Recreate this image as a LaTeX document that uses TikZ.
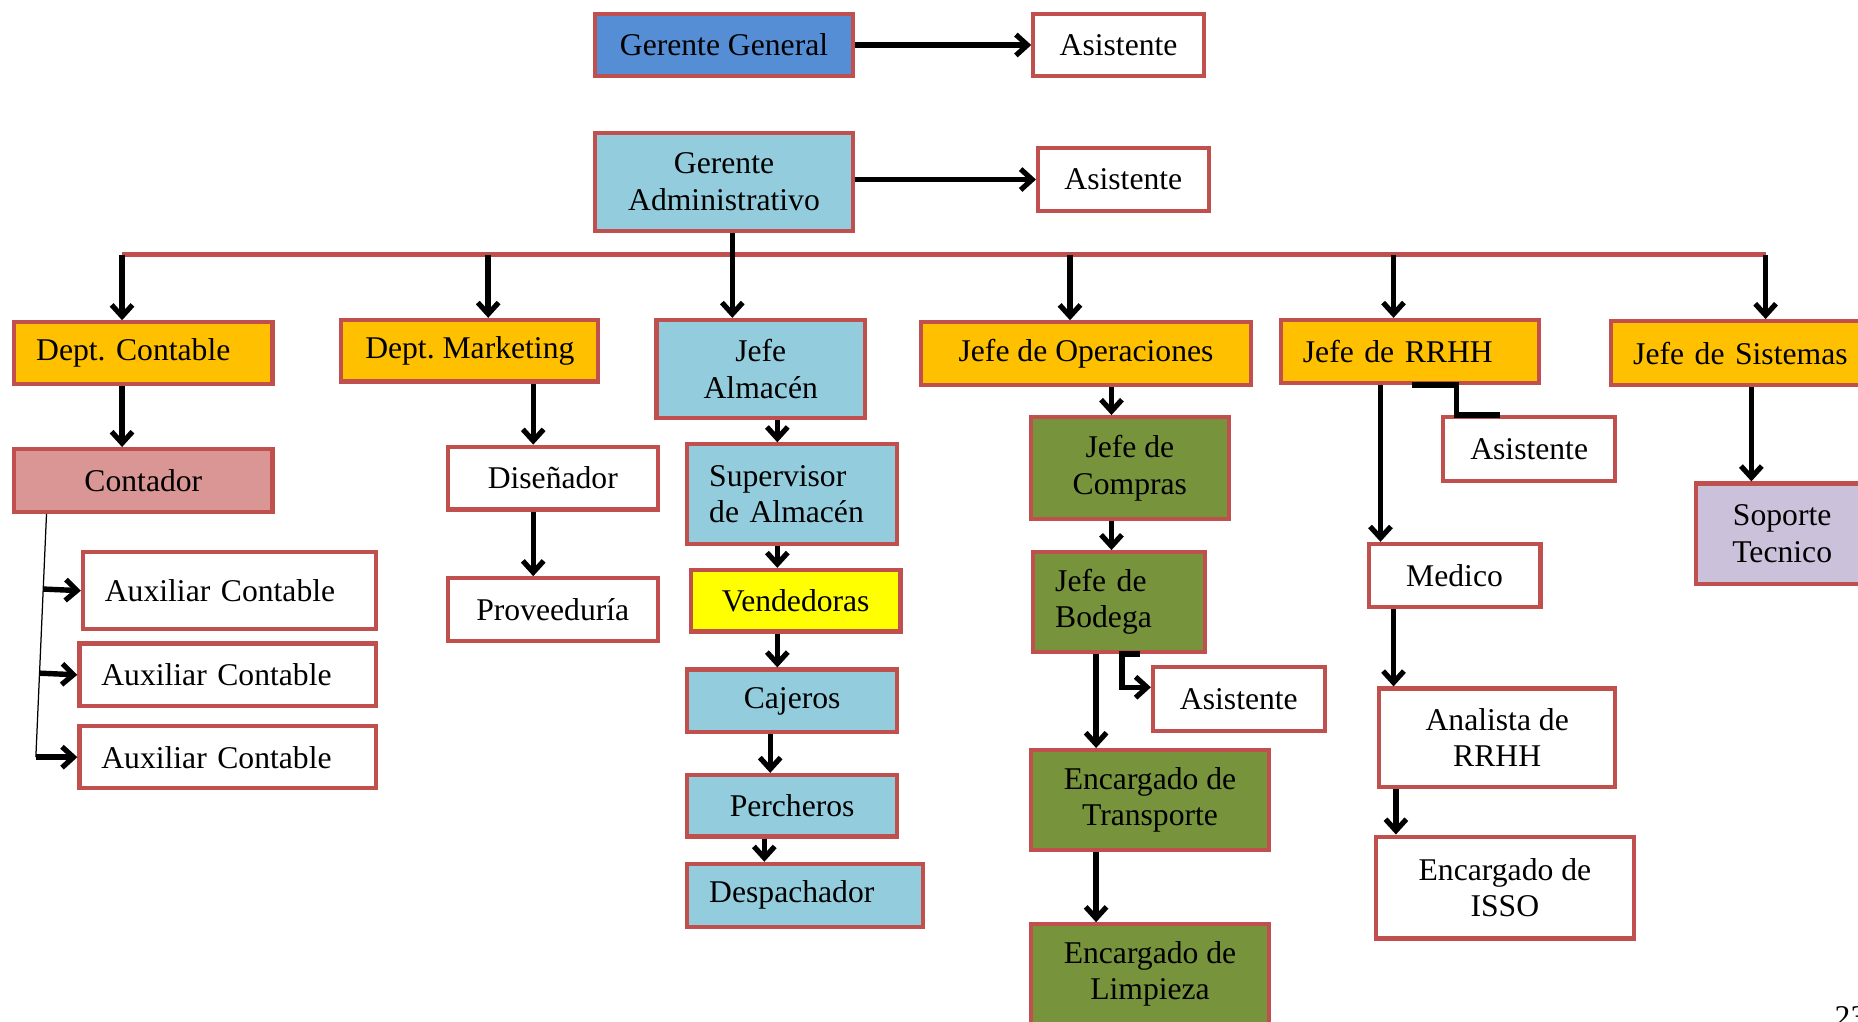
\documentclass[tikz,border=0pt]{standalone}
\usepackage{fontspec}
\setmainfont{Liberation Serif}
\usetikzlibrary{arrows.meta}
\usetikzlibrary{calc}

\definecolor{borde}{HTML}{C0504D}
\definecolor{azul}{HTML}{558ED5}
\definecolor{celeste}{HTML}{93CDDD}
\definecolor{naranja}{HTML}{FFC000}
\definecolor{rosa}{HTML}{D99694}
\definecolor{amarillo}{HTML}{FFFF00}
\definecolor{verde}{HTML}{77933C}
\definecolor{lila}{HTML}{CCC1DA}

\tikzset{
	caja/.style={draw=borde, line width=2pt, fill=white, align=center, inner sep=2pt, font=\fontsize{15.2}{17.5}\selectfont},
	izq/.style={align=left, inner xsep=0.37cm},
	flecha/.style={line width=2.6pt, -{Straight Barb[length=5.5pt, width=10pt, line width=2.5pt]}},
	linea/.style={line width=2.6pt},
	barra/.style={draw=borde, line width=2.4pt},
}

\begin{document}
\frenchspacing
\begin{tikzpicture}[x=0.02cm, y=-0.02cm]
	\useasboundingbox (0,0) rectangle (1568,862);
	\clip (0,0) rectangle (1568,862);

	\node[caja, fill=azul, minimum width=4.36cm, minimum height=1.04cm] (gg) at (611,38) {Gerente General};
	\node[caja, minimum width=2.88cm, minimum height=1.04cm] (asisGG) at (944,38) {Asistente};
	\node[caja, fill=celeste, minimum width=4.36cm, minimum height=1.66cm] (ga) at (611,153.5) {Gerente\\Administrativo};
	\node[caja, minimum width=2.88cm, minimum height=1.06cm] (asisGA) at (948,151.5) {Asistente};

	\node[caja, izq, fill=naranja, text width=3.62cm, minimum height=1.04cm] (contable) at (121,298) {Dept. Contable};
	\node[caja, fill=naranja, minimum width=4.34cm, minimum height=1.04cm] (marketing) at (396.5,296) {Dept. Marketing};
	\node[caja, fill=celeste, minimum width=3.52cm, minimum height=1.66cm] (almacen) at (642,311.5) {Jefe\\Almacén};
	\node[caja, fill=naranja, minimum width=5.58cm, minimum height=1.06cm] (operaciones) at (916.5,298.5) {Jefe de Operaciones};
	\node[caja, izq, fill=naranja, text width=3.62cm, minimum height=1.06cm] (rrhh) at (1190,296.5) {Jefe de RRHH};
	\node[caja, izq, fill=naranja, text width=3.75cm, minimum height=1.08cm] (sistemas) at (1472,298) {Jefe de Sistemas};

	\node[caja, fill=rosa, minimum width=4.36cm, minimum height=1.06cm] (contador) at (121,405.5) {Contador};
	\node[caja, izq, text width=4.2cm, minimum height=1.3cm] (aux1) at (193.5,498.5) {Auxiliar Contable};
	\node[caja, izq, text width=4.26cm, minimum height=1.06cm] (aux2) at (192,569.5) {Auxiliar Contable};
	\node[caja, izq, text width=4.26cm, minimum height=1.04cm] (aux3) at (192,639) {Auxiliar Contable};

	\node[caja, minimum width=3.54cm, minimum height=1.06cm] (disenador) at (466.5,403.5) {Diseñador};
	\node[caja, minimum width=3.54cm, minimum height=1.06cm] (proveeduria) at (466.5,514.5) {Proveeduría};

	\node[caja, izq, fill=celeste, text width=2.8cm, minimum height=1.68cm] (supervisor) at (668.5,417) {Supervisor\\de Almacén};
	\node[caja, fill=amarillo, minimum width=3.54cm, minimum height=1.04cm] (vendedoras) at (671.5,507) {Vendedoras};
	\node[caja, fill=celeste, minimum width=3.54cm, minimum height=1.06cm] (cajeros) at (668.5,591.5) {Cajeros};
	\node[caja, fill=celeste, minimum width=3.54cm, minimum height=1.04cm] (percheros) at (668.5,680) {Percheros};
	\node[caja, izq, fill=celeste, text width=3.24cm, minimum height=1.06cm] (despachador) at (679.5,755.5) {Despachador};

	\node[caja, fill=verde, minimum width=3.34cm, minimum height=1.72cm] (compras) at (953.5,395) {Jefe de\\Compras};
	\node[caja, izq, fill=verde, text width=2.16cm, minimum height=1.68cm] (bodega) at (944.5,508) {Jefe de\\Bodega};
	\node[caja, minimum width=2.9cm, minimum height=1.08cm] (asisBodega) at (1045.5,590) {Asistente};
	\node[caja, fill=verde, minimum width=4.02cm, minimum height=1.68cm] (transporte) at (970.5,675) {Encargado de\\Transporte};
	\node[caja, fill=verde, minimum width=4.02cm, minimum height=1.68cm] (limpieza) at (970.5,822) {Encargado de\\Limpieza};

	\node[caja, minimum width=2.9cm, minimum height=1.08cm] (asisRRHH) at (1290.5,379) {Asistente};
	\node[caja, minimum width=2.9cm, minimum height=1.06cm] (medico) at (1227.5,485.5) {Medico};
	\node[caja, minimum width=3.98cm, minimum height=1.66cm] (analista) at (1263.5,622.5) {Analista de\\RRHH};
	\node[caja, minimum width=4.36cm, minimum height=1.72cm] (isso) at (1270,749) {Encargado de\\ISSO};

	\node[caja, fill=lila, minimum width=2.92cm, minimum height=1.7cm] (soporte) at (1504,450.5) {Soporte\\Tecnico};

	\node[anchor=base west, inner sep=0pt, font=\fontsize{15.2}{17}\selectfont] (pagina) at (1548,867) {23};

	% linea principal
	\coordinate (busL) at (103,215);
	\coordinate (busR) at (1490,215);
	\draw[barra] (busL) -- (busR);
	\draw[linea] ([xshift=0.14cm]ga.south) -- ([xshift=0.14cm]ga.south |- busL);

	\draw[flecha] (gg.east) -- (asisGG.west);
	\draw[flecha] (ga.east |- asisGA.west) -- (asisGA.west);

	\draw[flecha] ([xshift=-0.36cm]contable.north |- busL) -- ([xshift=-0.36cm]contable.north);
	\draw[flecha] ([xshift=0.31cm]marketing.north |- busL) -- ([xshift=0.31cm]marketing.north);
	\draw[flecha] ([xshift=-0.48cm]almacen.north |- busL) -- ([xshift=-0.48cm]almacen.north);
	\draw[flecha] ([xshift=-0.27cm]operaciones.north |- busL) -- ([xshift=-0.27cm]operaciones.north);
	\draw[flecha] ([xshift=-0.28cm]rrhh.north |- busL) -- ([xshift=-0.28cm]rrhh.north);
	\draw[flecha] ([xshift=0.36cm]sistemas.north |- busL) -- ([xshift=0.36cm]sistemas.north);

	\draw[flecha] ([xshift=-0.36cm]contable.south) -- ([xshift=-0.36cm]contador.north);
	\coordinate (lt) at ([xshift=0.58cm]contador.south west);
	\coordinate (lb) at ([xshift=-0.18cm]lt |- aux3.west);
	\draw[line width=0.6pt] (lt) -- (lb);
	\draw[flecha] ($(lt)!(aux1.west)!(lb)$) -- (aux1.west);
	\draw[flecha] ($(lt)!(aux2.west)!(lb)$) -- (aux2.west);
	\draw[flecha] (lb) -- (aux3.west);

	\draw[flecha] ([xshift=-0.33cm]disenador.north |- marketing.south) -- ([xshift=-0.33cm]disenador.north);
	\draw[flecha] ([xshift=-0.33cm]disenador.south) -- ([xshift=-0.33cm]proveeduria.north);

	\draw[flecha] ([xshift=-0.25cm]supervisor.north |- almacen.south) -- ([xshift=-0.25cm]supervisor.north);
	\draw[flecha] ([xshift=-0.31cm]vendedoras.north |- supervisor.south) -- ([xshift=-0.31cm]vendedoras.north);
	\draw[flecha] ([xshift=-0.25cm]cajeros.north |- vendedoras.south) -- ([xshift=-0.25cm]cajeros.north);
	\draw[flecha] ([xshift=-0.37cm]cajeros.south) -- ([xshift=-0.37cm]percheros.north);
	\draw[flecha] ([xshift=-0.69cm]despachador.north |- percheros.south) -- ([xshift=-0.69cm]despachador.north);

	\draw[flecha] ([xshift=-0.31cm]compras.north |- operaciones.south) -- ([xshift=-0.31cm]compras.north);
	\draw[flecha] ([xshift=-0.13cm]bodega.north |- compras.south) -- ([xshift=-0.13cm]bodega.north);
	\draw[flecha] ([xshift=-0.91cm]transporte.north |- bodega.south) -- ([xshift=-0.91cm]transporte.north);
	\draw[flecha] ([xshift=-0.91cm]transporte.south) -- ([xshift=-0.91cm]limpieza.north);
	\draw[flecha] ([xshift=0.35cm]bodega.south) -- ([xshift=0.05cm]bodega.south) |- ([yshift=0.2cm]asisBodega.west);

	\draw[flecha] ([xshift=-1.25cm]medico.north |- rrhh.south) -- ([xshift=-1.25cm]medico.north);
	\draw[linea] ([xshift=0.04cm]rrhh.south) -- ([xshift=0.78cm]rrhh.south) |- ([xshift=-0.49cm]asisRRHH.north);
	\draw[flecha] ([xshift=-1.75cm]analista.north |- medico.south) -- ([xshift=-1.75cm]analista.north);
	\draw[flecha] ([xshift=-1.84cm]isso.north |- analista.south) -- ([xshift=-1.84cm]isso.north);

	\draw[flecha] ([xshift=-0.52cm]soporte.north |- sistemas.south) -- ([xshift=-0.52cm]soporte.north);
\end{tikzpicture}
\end{document}
